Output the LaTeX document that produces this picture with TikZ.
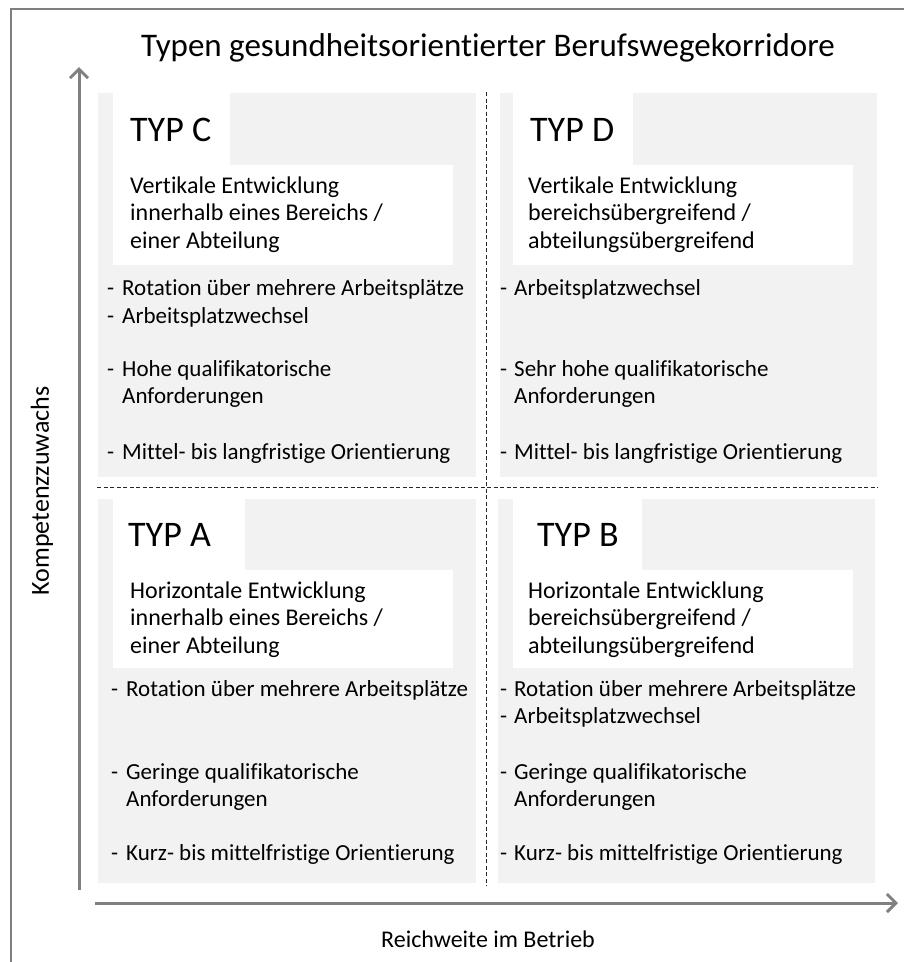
\documentclass[tikz,border=0pt]{standalone}
\usepackage{fontspec}
\setmainfont{Carlito}[Ligatures=NoCommon]
\usetikzlibrary{arrows.meta}
\definecolor{axisgray}{HTML}{808080}
\definecolor{framegray}{HTML}{7F7F7F}
\definecolor{boxgray}{HTML}{F2F2F2}
\begin{document}
\begin{tikzpicture}[x=1pt,y=-1pt,
  quad/.style={fill=boxgray,draw=none},
  wbox/.style={fill=white,draw=none},
  typ/.style={anchor=base west,inner sep=0pt,font=\fontsize{36}{40}\selectfont},
  desc/.style={anchor=base west,inner sep=0pt,font=\fontsize{24}{28}\selectfont},
  txt/.style={anchor=base west,inner sep=0pt,font=\fontsize{23}{27}\selectfont},
  lab/.style={inner sep=0pt,font=\fontsize{24}{28}\selectfont},
  axisarrow/.style={draw=axisgray,line width=3pt,-{Straight Barb[length=9pt,width=18pt,line width=3pt]}},
  sepline/.style={draw=black!85,line width=1pt,dash pattern=on 4pt off 2.5pt},
  frameline/.style={draw=framegray,line width=1.5pt}]
\useasboundingbox (0,0) rectangle (904,962);
% frame
\coordinate (f1) at (11,9);
\coordinate (f2) at (904,9);
\coordinate (f3) at (11,962);
\draw[frameline] (f2) -- (f1) -- (f3);
% title
\node[anchor=base,inner sep=0pt,font=\fontsize{33}{38}\selectfont] (title) at (488,56) {Typen gesundheitsorientierter Berufswegekorridore};
% quadrants
\fill[quad] (98,93) rectangle (476,477);
\fill[quad] (500,93) rectangle (877,477);
\fill[quad] (98,499) rectangle (476,883);
\fill[quad] (498,499) rectangle (875,883);
% white boxes
\fill[wbox] (113,93) rectangle (230,166);
\fill[wbox] (113,165) rectangle (453,265);
\fill[wbox] (513,93) rectangle (633,166);
\fill[wbox] (513,165) rectangle (853,265);
\fill[wbox] (113,499) rectangle (245,571);
\fill[wbox] (113,570) rectangle (453,668);
\fill[wbox] (513,499) rectangle (642,571);
\fill[wbox] (513,570) rectangle (853,668);
% separators
\coordinate (vs1) at (486,92);
\coordinate (vs2) at (486,886);
\coordinate (hs1) at (97,487);
\coordinate (hs2) at (878,487);
\draw[sepline] (vs1) -- (vs2);
\draw[sepline] (hs1) -- (hs2);
% axes
\coordinate (ya) at (79,890);
\coordinate (yb) at (79,67);
\coordinate (xa) at (95,903);
\coordinate (xb) at (898,903);
\draw[axisarrow] (ya) -- (yb);
\draw[axisarrow] (xa) -- (xb);
\node[lab,rotate=90,font=\fontsize{26}{30}\selectfont] (ylab) at (42,491) {Kompetenzzuwachs};
\node[lab] (xlab) at (488,939) {Reichweite im Betrieb};
% TYP C
\node[typ] (tC) at (130,141) {TYP C};
\node[desc] (dC1) at (130,193) {Vertikale Entwicklung};
\node[desc] (dC2) at (130,220.5) {innerhalb eines Bereichs /};
\node[desc] (dC3) at (130,248) {einer Abteilung};
\node[txt] (bC1d) at (107,295) {-};
\node[txt] (bC1) at (122,295) {Rotation über mehrere Arbeitsplätze};
\node[txt] (bC2d) at (107,323) {-};
\node[txt] (bC2) at (122,323) {Arbeitsplatzwechsel};
\node[txt] (bC3d) at (107,376) {-};
\node[txt] (bC3) at (122,376) {Hohe qualifikatorische};
\node[txt] (bC4) at (122,403) {Anforderungen};
\node[txt] (bC5d) at (107,459) {-};
\node[txt] (bC5) at (122,459) {Mittel- bis langfristige Orientierung};
% TYP D
\node[typ] (tD) at (530,141) {TYP D};
\node[desc] (dD1) at (528,193) {Vertikale Entwicklung};
\node[desc] (dD2) at (528,220.5) {bereichsübergreifend /};
\node[desc] (dD3) at (528,248) {abteilungsübergreifend};
\node[txt] (bD1d) at (500,295) {-};
\node[txt] (bD1) at (514,295) {Arbeitsplatzwechsel};
\node[txt] (bD3d) at (500,376) {-};
\node[txt] (bD3) at (514,376) {Sehr hohe qualifikatorische};
\node[txt] (bD4) at (514,403) {Anforderungen};
\node[txt] (bD5d) at (500,459) {-};
\node[txt] (bD5) at (514,459) {Mittel- bis langfristige Orientierung};
% TYP A
\node[typ] (tA) at (128,546) {TYP A};
\node[desc] (dA1) at (130,598) {Horizontale Entwicklung};
\node[desc] (dA2) at (130,625.5) {innerhalb eines Bereichs /};
\node[desc] (dA3) at (130,653) {einer Abteilung};
\node[txt] (bA1d) at (111,696) {-};
\node[txt] (bA1) at (126,696) {Rotation über mehrere Arbeitsplätze};
\node[txt] (bA3d) at (111,779) {-};
\node[txt] (bA3) at (126,779) {Geringe qualifikatorische};
\node[txt] (bA4) at (126,806) {Anforderungen};
\node[txt] (bA5d) at (111,860) {-};
\node[txt] (bA5) at (126,860) {Kurz- bis mittelfristige Orientierung};
% TYP B
\node[typ] (tB) at (537,546) {TYP B};
\node[desc] (dB1) at (528,598) {Horizontale Entwicklung};
\node[desc] (dB2) at (528,625.5) {bereichsübergreifend /};
\node[desc] (dB3) at (528,653) {abteilungsübergreifend};
\node[txt] (bB1d) at (500,696) {-};
\node[txt] (bB1) at (514,696) {Rotation über mehrere Arbeitsplätze};
\node[txt] (bB2d) at (500,723) {-};
\node[txt] (bB2) at (514,723) {Arbeitsplatzwechsel};
\node[txt] (bB3d) at (500,779) {-};
\node[txt] (bB3) at (514,779) {Geringe qualifikatorische};
\node[txt] (bB4) at (514,806) {Anforderungen};
\node[txt] (bB5d) at (500,860) {-};
\node[txt] (bB5) at (514,860) {Kurz- bis mittelfristige Orientierung};
\end{tikzpicture}
\end{document}
